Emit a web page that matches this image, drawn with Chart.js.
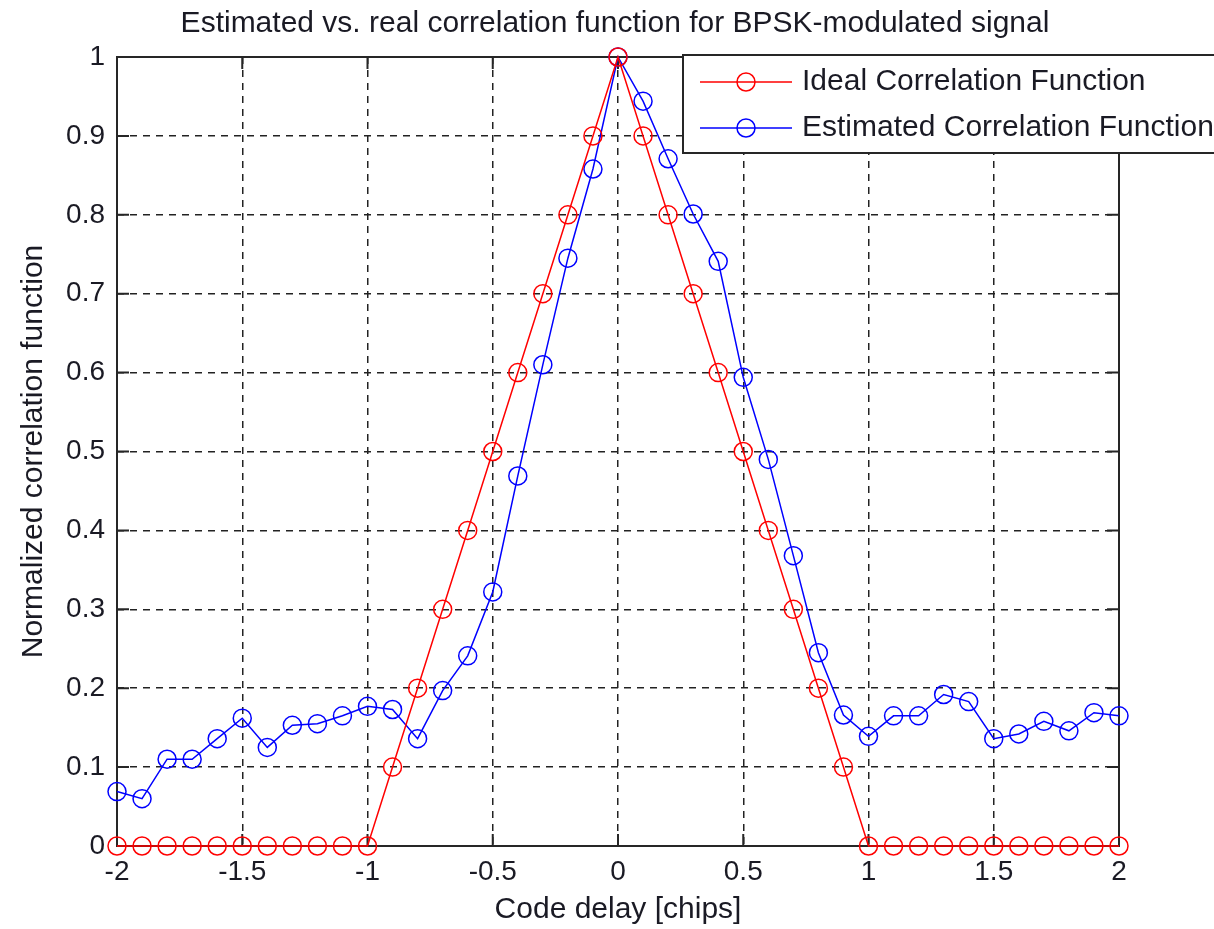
<!DOCTYPE html>
<html lang="en">
<head>
<meta charset="UTF-8" />
<title>Correlation function</title>
<script src="https://cdn.jsdelivr.net/npm/chart.js"></script>
<style>
  html, body { margin: 0; padding: 0; background: #fff; }
</style>
</head>
<body>
<canvas id="myChart" width="1214" height="929"></canvas>
<script>
// code delay in chips
const delays = [
  -2, -1.9, -1.8, -1.7, -1.6, -1.5, -1.4, -1.3, -1.2, -1.1, -1,
  -0.9, -0.8, -0.7, -0.6, -0.5, -0.4, -0.3, -0.2, -0.1, 0,
  0.1, 0.2, 0.3, 0.4, 0.5, 0.6, 0.7, 0.8, 0.9, 1,
  1.1, 1.2, 1.3, 1.4, 1.5, 1.6, 1.7, 1.8, 1.9, 2,
];
const ideal = [
  0, 0, 0, 0, 0, 0, 0, 0, 0, 0, 0,
  0.1, 0.2, 0.3, 0.4, 0.5, 0.6, 0.7, 0.8, 0.9, 1,
  0.9, 0.8, 0.7, 0.6, 0.5, 0.4, 0.3, 0.2, 0.1, 0,
  0, 0, 0, 0, 0, 0, 0, 0, 0, 0,
];
const estimated = [
  0.069, 0.06, 0.11, 0.11, 0.136, 0.162, 0.125, 0.153, 0.155, 0.165, 0.177,
  0.173, 0.136, 0.197, 0.241, 0.322, 0.469, 0.61, 0.745, 0.858, 1,
  0.944, 0.871, 0.801, 0.741, 0.594, 0.49, 0.368, 0.245, 0.166,
  0.139, 0.165, 0.165, 0.192, 0.183, 0.136, 0.142, 0.158, 0.146, 0.169, 0.165,
];
const xTicks = [-2, -1.5, -1, -0.5, 0, 0.5, 1, 1.5, 2];
const yTicks = [0, 0.1, 0.2, 0.3, 0.4, 0.5, 0.6, 0.7, 0.8, 0.9, 1];

const FONT = "'Liberation Sans', Arial, sans-serif";
const TEXT = "#1a1a24";

const toPoints = (vals) => delays.map((d, i) => ({ x: d, y: vals[i] }));

// MATLAB style box with inward tick marks
const frame = {
  id: "frame",
  beforeDatasetsDraw(chart) {
    const { ctx, chartArea: a, scales } = chart;
    ctx.save();
    ctx.setLineDash([]);
    ctx.strokeStyle = "#262626";
    ctx.lineWidth = 2;
    ctx.strokeRect(a.left, a.top, a.right - a.left, a.bottom - a.top);
    ctx.beginPath();
    scales.x.ticks.forEach((t) => {
      const px = scales.x.getPixelForValue(t.value);
      ctx.moveTo(px, a.bottom);
      ctx.lineTo(px, a.bottom - 12);
      ctx.moveTo(px, a.top);
      ctx.lineTo(px, a.top + 12);
    });
    scales.y.ticks.forEach((t) => {
      const py = scales.y.getPixelForValue(t.value);
      ctx.moveTo(a.left, py);
      ctx.lineTo(a.left + 12, py);
      ctx.moveTo(a.right, py);
      ctx.lineTo(a.right - 12, py);
    });
    ctx.stroke();
    ctx.restore();
  },
};

// legend box sitting over the top right corner, running off the figure
const legendBox = {
  id: "legendBox",
  afterDraw(chart) {
    const { ctx } = chart;
    const left = 683, top = 55, h = 98;
    ctx.save();
    ctx.fillStyle = "#fff";
    ctx.fillRect(left, top, 560, h);
    ctx.strokeStyle = "#262626";
    ctx.lineWidth = 2;
    ctx.strokeRect(left, top, 560, h);
    const rows = [82, 128];
    chart.data.datasets.forEach((ds, i) => {
      const y = rows[i];
      ctx.strokeStyle = ds.borderColor;
      ctx.lineWidth = 1.5;
      ctx.beginPath();
      ctx.moveTo(700, y);
      ctx.lineTo(792, y);
      ctx.stroke();
      ctx.beginPath();
      ctx.arc(746, y, 9, 0, Math.PI * 2);
      ctx.stroke();
      ctx.fillStyle = TEXT;
      ctx.font = "30px " + FONT;
      ctx.textBaseline = "middle";
      ctx.textAlign = "left";
      ctx.fillText(ds.label, 802, y);
    });
    ctx.restore();
  },
};

new Chart(document.getElementById("myChart").getContext("2d"), {
  type: "line",
  data: {
    datasets: [
      {
        label: "Ideal Correlation Function",
        data: toPoints(ideal),
        borderColor: "#ff0000",
        backgroundColor: "rgba(0,0,0,0)",
        borderWidth: 1.5,
        pointRadius: 9,
        pointBorderWidth: 1.5,
        pointBackgroundColor: "rgba(0,0,0,0)",
        pointBorderColor: "#ff0000",
        tension: 0,
        clip: false,
      },
      {
        label: "Estimated Correlation Function",
        data: toPoints(estimated),
        borderColor: "#0000ff",
        backgroundColor: "rgba(0,0,0,0)",
        borderWidth: 1.5,
        pointRadius: 9,
        pointBorderWidth: 1.5,
        pointBackgroundColor: "rgba(0,0,0,0)",
        pointBorderColor: "#0000ff",
        tension: 0,
        clip: false,
      },
    ],
  },
  options: {
    responsive: false,
    animation: false,
    layout: { padding: { top: 0, right: 0, bottom: 0, left: 16 } },
    plugins: {
      legend: { display: false },
      tooltip: { enabled: false },
      title: {
        display: true,
        text: "Estimated vs. real correlation function for BPSK-modulated signal",
        color: TEXT,
        font: { family: FONT, size: 30, weight: "normal" },
        padding: { top: 6, bottom: 15 },
      },
    },
    scales: {
      x: {
        type: "linear",
        min: -2,
        max: 2,
        afterBuildTicks: (s) => { s.ticks = xTicks.map((v) => ({ value: v })); },
        afterFit: (s) => { s.height = 83; },
        ticks: {
          color: TEXT,
          padding: 9,
          maxRotation: 0,
          font: { family: FONT, size: 28 },
          callback: (v) => String(v),
        },
        grid: { color: "#222", lineWidth: 1.5, drawTicks: false },
        border: { display: false, dash: [7, 6] },
        title: {
          display: true,
          text: "Code delay [chips]",
          color: TEXT,
          font: { family: FONT, size: 30 },
          padding: { top: 0, bottom: 1 },
        },
      },
      y: {
        type: "linear",
        min: 0,
        max: 1,
        afterBuildTicks: (s) => { s.ticks = yTicks.map((v) => ({ value: v })); },
        afterFit: (s) => { s.width = 101; },
        ticks: {
          color: TEXT,
          padding: 12,
          font: { family: FONT, size: 28 },
          callback: (v) => String(v),
        },
        grid: { color: "#222", lineWidth: 1.5, drawTicks: false },
        border: { display: false, dash: [7, 6] },
        title: {
          display: true,
          text: "Normalized correlation function",
          color: TEXT,
          font: { family: FONT, size: 30 },
          padding: { top: 0, bottom: 0 },
        },
      },
      // empty strip on the right so the plot ends where the figure's axes end
      y2: {
        type: "linear",
        position: "right",
        min: 0,
        max: 1,
        afterFit: (s) => { s.width = 95; },
        ticks: { display: false },
        grid: { display: false },
        border: { display: false },
      },
    },
  },
  plugins: [frame, legendBox],
});
</script>
</body>
</html>
